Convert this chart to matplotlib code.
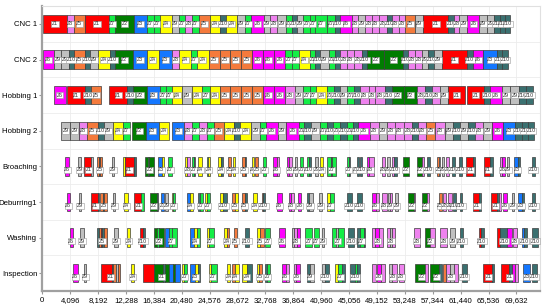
import matplotlib
matplotlib.use("Agg")
import matplotlib.pyplot as plt
from matplotlib.ticker import FuncFormatter, MultipleLocator

plt.rcParams["font.family"] = ["Liberation Sans", "DejaVu Sans"]

# machines top -> bottom
machines = ["CNC 1", "CNC 2", "Hobbing 1", "Hobbing 2",
            "Broaching", "Deburring1", "Washing", "Inspection"]

job_colors = {1: "#ff0000", 2: "#007d00", 3: "#1477ff", 4: "#ffff00",
              5: "#f47a3c", 6: "#ff00ff", 7: "#14ee46", 8: "#ee82ee",
              9: "#c0c0c0", 10: "#3a7070"}

# (job, start, end)
cnc1 = [(1, 100, 3630), (8, 3630, 4600), (5, 4600, 6210), (1, 6210, 9840),
        (7, 9840, 10720), (2, 10720, 13400), (3, 13400, 15370), (7, 15370, 16340),
        (7, 16340, 17320), (4, 17320, 19040), (9, 19040, 20010), (7, 20010, 20990),
        (8, 20990, 21980), (7, 21980, 22950), (5, 22950, 24560), (4, 24560, 26130),
        (10, 26130, 26970), (4, 26970, 28580), (9, 28580, 29800), (7, 29800, 30680),
        (6, 30680, 32490), (9, 32490, 33470), (8, 33470, 34450), (9, 34450, 35820),
        (7, 35820, 36660), (10, 36660, 37390), (9, 37390, 38270), (7, 38270, 39340),
        (7, 39340, 40080), (7, 40080, 41790), (7, 41790, 43010), (10, 43010, 43750),
        (6, 43750, 45460), (8, 45460, 46430), (9, 46430, 47420), (8, 47420, 48400),
        (8, 48400, 49370), (8, 49370, 50600), (10, 50600, 51330), (8, 51330, 52310),
        (8, 52310, 53290), (5, 53290, 54760), (9, 54760, 55970), (1, 55970, 59640),
        (10, 59640, 60480), (8, 60480, 61260), (9, 61260, 62430), (6, 62430, 64190),
        (9, 64190, 65280), (9, 65280, 66350), (10, 66350, 67230), (10, 67230, 67970),
        (10, 67970, 68700)]

cnc2 = [(6, 100, 1660), (9, 1660, 2790), (9, 2790, 3860), (10, 3860, 4600),
        (5, 4600, 6210), (10, 6210, 7050), (9, 7050, 8180), (4, 8180, 9880),
        (10, 9880, 10720), (2, 10720, 13310), (3, 13310, 15370), (4, 15370, 17070),
        (3, 17070, 19040), (8, 19040, 20110), (4, 20110, 21870), (7, 21870, 22710),
        (4, 22710, 24410), (5, 24410, 26030), (5, 26030, 27600), (5, 27600, 29210),
        (5, 29210, 30780), (6, 30780, 32400), (6, 32400, 33950), (6, 33950, 35670),
        (7, 35670, 36660), (7, 36660, 37630), (4, 37630, 39240), (7, 39240, 40080),
        (10, 40080, 40810), (9, 40810, 42030), (7, 42030, 43010), (10, 43010, 43750),
        (8, 43750, 44730), (8, 44730, 45700), (8, 45700, 46930), (10, 46930, 47670),
        (2, 47670, 50210), (2, 50210, 52950), (10, 52950, 53770), (8, 53770, 54760),
        (8, 54760, 55740), (9, 55740, 56710), (10, 56710, 57550), (9, 57550, 58680),
        (1, 58680, 62340), (10, 62340, 63230), (6, 63230, 64780), (3, 64780, 66750),
        (10, 66750, 67480), (10, 67480, 68450)]

hobbing1 = [(6, 1660, 3480), (1, 3630, 6310), (10, 6310, 7150), (5, 7150, 8660),
            (1, 9840, 12430), (10, 12430, 13310), (2, 13310, 15370), (3, 15370, 17220),
            (7, 17220, 18200), (7, 18200, 19040), (4, 19040, 20550), (9, 20550, 21980),
            (4, 21980, 23440), (7, 23440, 24560), (4, 24560, 26030), (5, 26030, 27600),
            (5, 27600, 29210), (5, 29210, 30780), (5, 30780, 32400), (6, 32400, 33950),
            (6, 33950, 35670), (8, 35670, 37040), (9, 37040, 38270), (7, 38270, 39340),
            (7, 39340, 40220), (4, 40220, 41790), (7, 41790, 42760), (10, 42760, 43640),
            (9, 43640, 44730), (7, 44730, 45700), (10, 45700, 46680), (8, 46680, 47900),
            (8, 47900, 48880), (8, 48880, 50350), (10, 50350, 51330), (2, 51330, 53040),
            (2, 53040, 55010), (8, 55010, 56230), (10, 56230, 57210), (8, 57210, 58430),
            (9, 58430, 59640), (1, 59640, 62100), (1, 62340, 64880), (10, 64880, 65770),
            (6, 65770, 67480), (9, 67480, 68700), (9, 68700, 70070), (10, 70070, 71050),
            (10, 71050, 72030)]

hobbing2 = [(9, 2790, 4010), (9, 4010, 5430), (8, 5430, 6560), (5, 6560, 8120),
            (10, 8120, 9000), (9, 9000, 10380), (4, 10380, 11850), (7, 11850, 12820),
            (2, 13210, 15220), (3, 15220, 17070), (4, 17070, 18540), (3, 19040, 20850),
            (8, 20850, 21980), (7, 21980, 22950), (8, 22950, 24180), (7, 24180, 25150),
            (5, 25150, 26620), (4, 26620, 28080), (10, 28080, 29070), (4, 29070, 30640),
            (9, 30640, 32000), (7, 32000, 32880), (6, 32880, 34540), (9, 34540, 35820),
            (6, 35820, 37630), (7, 37630, 38460), (10, 38460, 39450), (9, 39450, 40710),
            (7, 40710, 41790), (10, 41790, 42670), (7, 42670, 43750), (10, 43750, 44730),
            (7, 44730, 45610), (10, 45610, 46430), (6, 46430, 48050), (8, 48050, 49370),
            (9, 49370, 50600), (8, 50600, 51820), (8, 51820, 53040), (8, 53040, 54270),
            (10, 54270, 55240), (8, 55240, 56370), (5, 56370, 57690), (8, 57690, 59160),
            (9, 59160, 60380), (10, 60380, 61360), (9, 61360, 62580), (10, 62580, 63560),
            (8, 63560, 64780), (9, 64780, 66020), (6, 66020, 67720), (3, 67720, 69440),
            (10, 69440, 70420), (10, 70420, 71390), (10, 71390, 72230)]

broaching = [(6, 3380, 3890), (9, 5280, 5730), (1, 6170, 7190), (9, 7190, 7490),
             (5, 8070, 8290), (10, 8290, 8440), (5, 8440, 8730), (9, 10200, 10570),
             (4, 11820, 12180), (1, 12180, 13510), (10, 13510, 13730), (2, 15120, 15560),
             (7, 15560, 15710), (2, 15710, 16370), (3, 17030, 17620), (4, 17620, 17910),
             (7, 18500, 19080), (4, 20990, 21290), (8, 21290, 21730), (7, 21980, 22310),
             (10, 22310, 22460), (4, 22900, 23420), (7, 24150, 24370), (4, 24370, 24660),
             (4, 25840, 26280), (10, 26280, 26570), (5, 27300, 27740), (4, 28040, 28330),
             (5, 29290, 29730), (10, 29730, 29950), (4, 30830, 31120), (5, 31270, 31710),
             (7, 32440, 32880), (6, 33910, 34500), (8, 34500, 34790), (6, 35890, 36260),
             (8, 36260, 36700), (9, 37140, 37430), (7, 37870, 38310), (7, 38830, 39120),
             (10, 39120, 39420), (9, 40080, 40520), (4, 40810, 41180), (7, 41760, 42430),
             (10, 42430, 42570), (7, 42570, 43160), (7, 44700, 44990), (10, 44990, 45210),
             (10, 46170, 46460), (10, 46680, 46970), (6, 47640, 48000), (8, 48000, 48660),
             (8, 49840, 50280), (9, 50570, 51010), (8, 51310, 51670), (10, 51670, 52040),
             (2, 52990, 53800), (2, 54980, 55710), (8, 55710, 56000), (10, 56450, 56890),
             (5, 57910, 58210), (9, 58210, 58430), (9, 58720, 59010), (8, 59310, 59750),
             (10, 60120, 60560), (10, 61220, 61580), (1, 62240, 63270), (10, 63270, 63560),
             (1, 64880, 65770), (10, 65770, 66130), (8, 67230, 67520), (6, 67520, 67970),
             (9, 68260, 68560), (3, 69290, 69880), (10, 69880, 70170), (10, 71860, 72370)]

deburring = [(6, 3600, 4040), (9, 5330, 5730), (1, 7150, 8150), (10, 8150, 8370),
             (5, 8510, 8950), (10, 8950, 9100), (5, 9100, 9470), (9, 10380, 10720),
             (4, 12040, 12550), (1, 13400, 14530), (7, 14530, 14900), (2, 15750, 16810),
             (10, 16810, 17030), (3, 17400, 17910), (9, 18060, 18420), (4, 19010, 19230),
             (7, 19230, 19520), (3, 21210, 21650), (4, 21650, 22170), (10, 22900, 23120),
             (7, 23120, 23630), (4, 23930, 24220), (7, 24220, 24660), (4, 26130, 26500),
             (10, 26570, 27080), (5, 27820, 28260), (4, 28260, 28700), (5, 29290, 29730),
             (10, 29730, 30020), (4, 30970, 31490), (5, 32220, 32440), (10, 32440, 32740),
             (6, 34420, 35160), (6, 36190, 36550), (8, 36550, 36920), (6, 37580, 38020),
             (10, 38830, 39200), (9, 39200, 39780), (9, 40660, 41100), (4, 41760, 42210),
             (7, 42210, 42790), (10, 44700, 45430), (10, 46170, 46900), (6, 48370, 49030),
             (8, 49030, 49400), (8, 49840, 50570), (9, 50790, 51090), (8, 51090, 51380),
             (9, 51820, 52260), (2, 53770, 54540), (8, 54540, 54760), (2, 55710, 56450),
             (8, 56450, 56740), (5, 58180, 58650), (8, 58870, 59310), (8, 59600, 60120),
             (10, 60330, 60780), (10, 61290, 61580), (1, 63230, 64200), (10, 64200, 64450),
             (1, 65910, 66750), (10, 66750, 67010), (8, 67010, 67310), (6, 67670, 68190),
             (9, 68920, 69290), (3, 69920, 70420), (10, 70420, 70680), (10, 71890, 72370)]

washing = [(6, 4010, 4510), (9, 5580, 6060), (10, 8070, 8290), (5, 8290, 8590),
           (1, 8590, 8810), (10, 8810, 9030), (5, 9030, 9470), (9, 10570, 11050),
           (4, 12430, 12920), (1, 14390, 14750), (10, 14750, 15120), (2, 16440, 16880),
           (7, 16880, 17180), (2, 17180, 17810), (3, 18060, 18640), (7, 18640, 19040),
           (7, 19040, 19770), (3, 21730, 22210), (4, 22210, 22710), (7, 22710, 23190),
           (4, 24180, 24520), (7, 24520, 25150), (4, 26620, 27110), (5, 27110, 27450),
           (5, 28080, 28580), (10, 29800, 30290), (4, 31490, 31930), (5, 31930, 32490),
           (7, 32740, 33470), (6, 34690, 35670), (9, 36660, 36990), (8, 36990, 37430),
           (6, 37430, 37870), (7, 38610, 39590), (7, 39830, 40560), (9, 41060, 41320),
           (7, 42530, 43160), (9, 43160, 43450), (7, 43450, 44230), (10, 44960, 45700),
           (10, 46200, 46680), (7, 46680, 47170), (10, 47170, 47420), (8, 48400, 48880),
           (6, 48880, 49370), (8, 49370, 50100), (8, 50600, 51090), (9, 51090, 51380),
           (8, 51380, 51820), (8, 54510, 55490), (2, 56230, 56960), (8, 56960, 57690),
           (8, 58430, 59410), (9, 59890, 60630), (10, 61360, 61850), (1, 64200, 64450),
           (10, 64450, 64880), (1, 66750, 67230), (10, 67230, 68220), (6, 68220, 68950),
           (8, 69140, 69660), (3, 70420, 70760), (10, 70760, 71150), (10, 71890, 72860)]

inspection = [(6, 4510, 5180), (9, 6170, 6460), (1, 8620, 10230), (10, 10230, 10420),
              (5, 10420, 10790), (9, 10790, 11160), (5, 11160, 11450), (4, 13070, 13510),
              (1, 14780, 16440), (2, 16440, 17760), (10, 17760, 17980), (2, 17980, 18540),
              (3, 18540, 19230), (2, 19230, 19520), (3, 19520, 20260), (4, 20510, 20770),
              (7, 20770, 21240), (3, 21730, 22460), (4, 22460, 22830), (10, 22830, 23190),
              (4, 24410, 24810), (7, 24810, 25650), (4, 27110, 27600), (5, 27850, 28330),
              (4, 28330, 28820), (4, 29320, 30050), (10, 30050, 30780), (4, 31520, 31780),
              (5, 31780, 32250), (10, 32740, 33030), (7, 33030, 33470), (6, 35190, 35820),
              (8, 35820, 36160), (8, 36890, 37290), (6, 37290, 37870), (10, 38860, 39270),
              (9, 39270, 39830), (9, 41060, 41540), (10, 41540, 42030), (4, 43010, 43450),
              (7, 43450, 44040), (10, 44040, 44480), (10, 45210, 45950), (7, 45950, 46240),
              (10, 46240, 46680), (8, 48400, 49030), (6, 49130, 49770), (8, 49770, 50350),
              (9, 50840, 51380), (8, 51380, 52070), (8, 52310, 53040), (2, 54760, 56230),
              (8, 56230, 56710), (2, 56960, 58280), (10, 58280, 58680), (5, 58910, 59240),
              (8, 59240, 59890), (9, 59890, 60480), (8, 60480, 61110), (10, 61610, 62340),
              (1, 64690, 66060), (10, 66060, 66350), (1, 67340, 68560), (10, 68560, 68950),
              (6, 68950, 69440), (8, 69440, 69920), (3, 70660, 71640), (10, 71890, 72620)]

schedule = [cnc1, cnc2, hobbing1, hobbing2, broaching, deburring, washing, inspection]


def label(ax, x, y, job):
    ax.text(x, y, "Z%d" % job, fontsize=3.8, color="#333333",
            ha="center", va="center", zorder=3,
            bbox=dict(boxstyle="square,pad=0.1", fc="white", ec="#9a9a9a", lw=0.4))


def groups(tasks, gap=120):
    """Split a row into clusters of touching slivers."""
    out = [[tasks[0]]]
    for t in tasks[1:]:
        if t[1] - out[-1][-1][2] <= gap:
            out[-1].append(t)
        else:
            out.append([t])
    return out


fig = plt.figure(figsize=(5.5, 3.07), dpi=100)
ax = fig.add_axes([0.077, 0.052, 0.905, 0.928])

for row, tasks in enumerate(schedule):
    for job, start, end in tasks:
        ax.barh(row, end - start, left=start, height=0.52,
                color=job_colors[job], edgecolor="#3c3c3c", linewidth=0.5, zorder=2)
    if row < 4:
        for job, start, end in tasks:
            label(ax, (start + end) / 2, row, job)
    else:
        # one label per cluster, named after its widest sliver
        for g in groups(tasks):
            big = max(g, key=lambda t: t[2] - t[1])
            label(ax, (g[0][1] + g[-1][2]) / 2, row + 0.1, big[0])

ax.set_xlim(0, 73100)
ax.set_ylim(7.5, -0.5)
ax.set_yticks(range(len(machines)))
ax.set_yticklabels(machines, fontsize=5.6)
ax.xaxis.set_major_locator(MultipleLocator(4096))
ax.xaxis.set_major_formatter(FuncFormatter(lambda v, p: "{:,}".format(int(v))))
ax.tick_params(axis="x", labelsize=5.6, length=2.5, color="#999999", pad=2)
ax.tick_params(axis="y", length=2.5, color="#999999", pad=1.2)

ax.set_yticks([r + 0.5 for r in range(len(machines) - 1)], minor=True)
ax.tick_params(axis="y", which="minor", length=0)
ax.grid(True, axis="x", color="#ececec", lw=0.6, zorder=0)
ax.grid(True, axis="y", which="minor", color="#ececec", lw=0.6, zorder=0)
ax.set_axisbelow(True)

for side in ["top", "right"]:
    ax.spines[side].set_color("#e0e0e0")
    ax.spines[side].set_linewidth(0.8)
for side in ["left", "bottom"]:
    ax.spines[side].set_color("#a0a0a0")
    ax.spines[side].set_linewidth(1.6)

plt.savefig("out.png", dpi=100)
